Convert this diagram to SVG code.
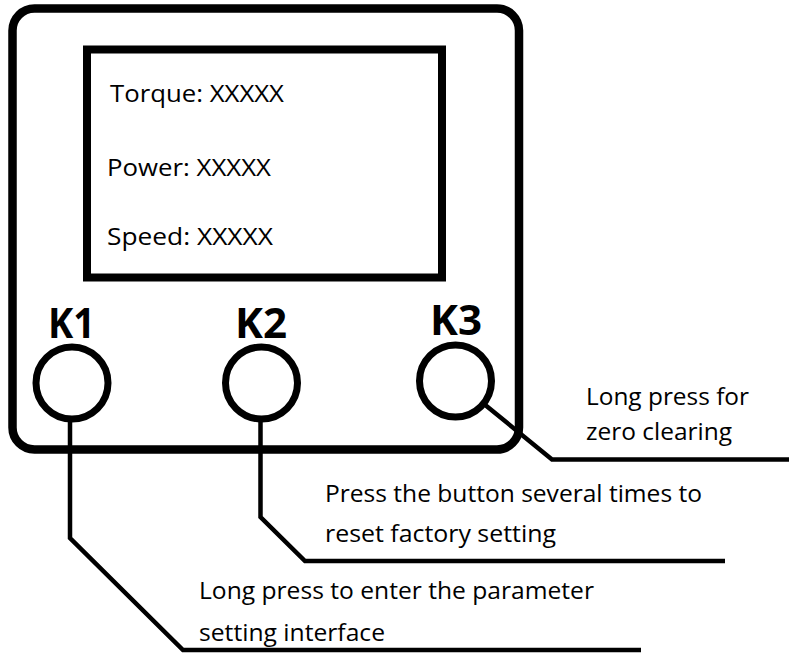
<svg xmlns="http://www.w3.org/2000/svg" width="789" height="653" viewBox="0 0 789 653">
<style>
.box{fill:none;stroke:#000;stroke-width:8.5}
.scr{fill:none;stroke:#000;stroke-width:8}
.btn{fill:#fff;stroke:#000;stroke-width:7}
.con{fill:none;stroke:#000;stroke-width:4.5;stroke-linejoin:miter}
.t{font-family:"Open Sans","Noto Sans",sans-serif;font-size:24px;fill:#000}
.k{font-family:"Open Sans","Noto Sans",sans-serif;font-size:42px;font-weight:bold;fill:#000}
</style>
<rect width="789" height="653" fill="#fff"/>
<g id="device">
<rect class="box" x="12.5" y="8.5" width="506.5" height="441" rx="22" ry="22"/>
</g>
<g id="screen">
<rect class="scr" x="87" y="49.5" width="355" height="228"/>
<text class="t" x="110" y="102" textLength="174" lengthAdjust="spacingAndGlyphs">Torque: XXXXX</text>
<text class="t" x="107" y="176" textLength="164" lengthAdjust="spacingAndGlyphs">Power: XXXXX</text>
<text class="t" x="107" y="245" textLength="166" lengthAdjust="spacingAndGlyphs">Speed: XXXXX</text>
</g>
<g id="connectors">
<polyline class="con" points="70,419 70,538 183,650 641,650"/>
<polyline class="con" points="260.5,419 260.5,517 305,561 725,561"/>
<polyline class="con" points="484,404 552,459.5 789,459.5"/>
</g>
<g id="K1">
<text class="k" x="48" y="338" textLength="47" lengthAdjust="spacingAndGlyphs">K1</text>
<circle class="btn" cx="72" cy="383" r="36"/>
</g>
<g id="K2">
<text class="k" x="235" y="338" textLength="52" lengthAdjust="spacingAndGlyphs">K2</text>
<circle class="btn" cx="261.5" cy="383" r="36"/>
</g>
<g id="K3">
<text class="k" x="430" y="335" textLength="52" lengthAdjust="spacingAndGlyphs">K3</text>
<circle class="btn" cx="455.5" cy="381" r="36"/>
</g>
<g id="label-K3">
<text class="t" x="586" y="405" textLength="163" lengthAdjust="spacingAndGlyphs">Long press for</text>
<text class="t" x="586" y="440" textLength="146" lengthAdjust="spacingAndGlyphs">zero clearing</text>
</g>
<g id="label-K2">
<text class="t" x="325" y="502" textLength="377" lengthAdjust="spacingAndGlyphs">Press the button several times to</text>
<text class="t" x="325" y="542" textLength="231" lengthAdjust="spacingAndGlyphs">reset factory setting</text>
</g>
<g id="label-K1">
<text class="t" x="199" y="599" textLength="395" lengthAdjust="spacingAndGlyphs">Long press to enter the parameter</text>
<text class="t" x="199" y="641" textLength="186" lengthAdjust="spacingAndGlyphs">setting interface</text>
</g>
</svg>
